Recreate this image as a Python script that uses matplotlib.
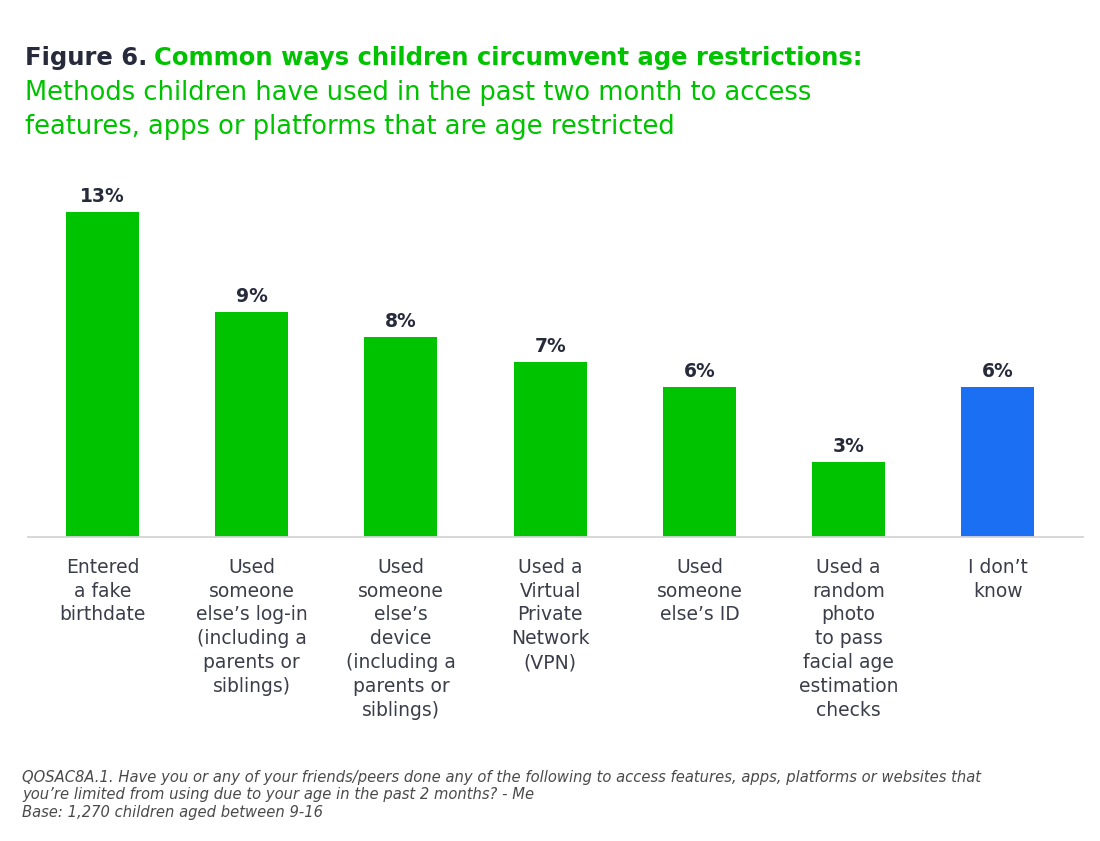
import matplotlib.pyplot as plt
from matplotlib.transforms import offset_copy

# Дані з графіка
categories = [
    "Entered\na fake\nbirthdate",
    "Used\nsomeone\nelse\u2019s log-in\n(including a\nparents or\nsiblings)",
    "Used\nsomeone\nelse\u2019s\ndevice\n(including a\nparents or\nsiblings)",
    "Used a\nVirtual\nPrivate\nNetwork\n(VPN)",
    "Used\nsomeone\nelse\u2019s ID",
    "Used a\nrandom\nphoto\nto pass\nfacial age\nestimation\nchecks",
    "I don\u2019t\nknow",
]
values = [13, 9, 8, 7, 6, 3, 6]
value_labels = ["13%", "9%", "8%", "7%", "6%", "3%", "6%"]

green = "#00c300"
blue = "#1a6ff2"
navy = "#262a3b"
grey = "#3b3e4a"
colors = [green] * 6 + [blue]

plt.rcParams['font.family'] = ['DejaVu Sans']

fig = plt.figure(figsize=(11, 8.41), dpi=100)
ax = fig.add_axes([0.02545, 0.3615, 0.959, 0.4162])

x = list(range(len(values)))
bars = ax.bar(x, values, width=0.49, color=colors, zorder=2)
ax.set_xlim(-0.499, 6.57)
ax.set_ylim(0, 14)

for b, lab in zip(bars, value_labels):
    ax.annotate(lab, (b.get_x() + b.get_width() / 2, b.get_height()),
                xytext=(0, 4), textcoords="offset points",
                ha="center", va="bottom", fontsize=13.5, fontweight="bold",
                color=navy)

ax.set_xticks(x)
ax.set_xticklabels(categories, fontsize=13.5, color=grey, linespacing=1.32)
ax.tick_params(axis="x", length=0, pad=15)
ax.set_yticks([])
for s in ["top", "left", "right"]:
    ax.spines[s].set_visible(False)
ax.spines["bottom"].set_color("#d4d4d4")
ax.spines["bottom"].set_linewidth(1.3)

# Заголовок з двох кольорів
t1 = fig.text(25 / 1100, 1 - 65 / 841, "Figure 6.", fontsize=17.5, fontweight="bold",
              color=navy, ha="left", va="baseline")
fig.canvas.draw()
w = t1.get_window_extent().width
tr = offset_copy(fig.transFigure, fig=fig, x=w / fig.dpi * 72 + 5, y=0, units="points")
fig.text(25 / 1100, 1 - 65 / 841, "Common ways children circumvent age restrictions:",
         fontsize=17.5, fontweight="bold", color=green, ha="left", va="baseline",
         transform=tr)
fig.text(25 / 1100, 1 - 100 / 841, "Methods children have used in the past two month to access",
         fontsize=18.5, color=green, ha="left", va="baseline")
fig.text(25 / 1100, 1 - 134 / 841, "features, apps or platforms that are age restricted",
         fontsize=18.5, color=green, ha="left", va="baseline")

note = ("QOSAC8A.1. Have you or any of your friends/peers done any of the following to access features, apps, platforms or websites that\n"
        "you\u2019re limited from using due to your age in the past 2 months? - Me\n"
        "Base: 1,270 children aged between 9-16")
fig.text(22 / 1100, 1 - 770 / 841, note, fontsize=10.6, style="italic", color="#4a4a4a",
         ha="left", va="top", linespacing=1.2)

fig.savefig("out.png", dpi=100, facecolor="white")
